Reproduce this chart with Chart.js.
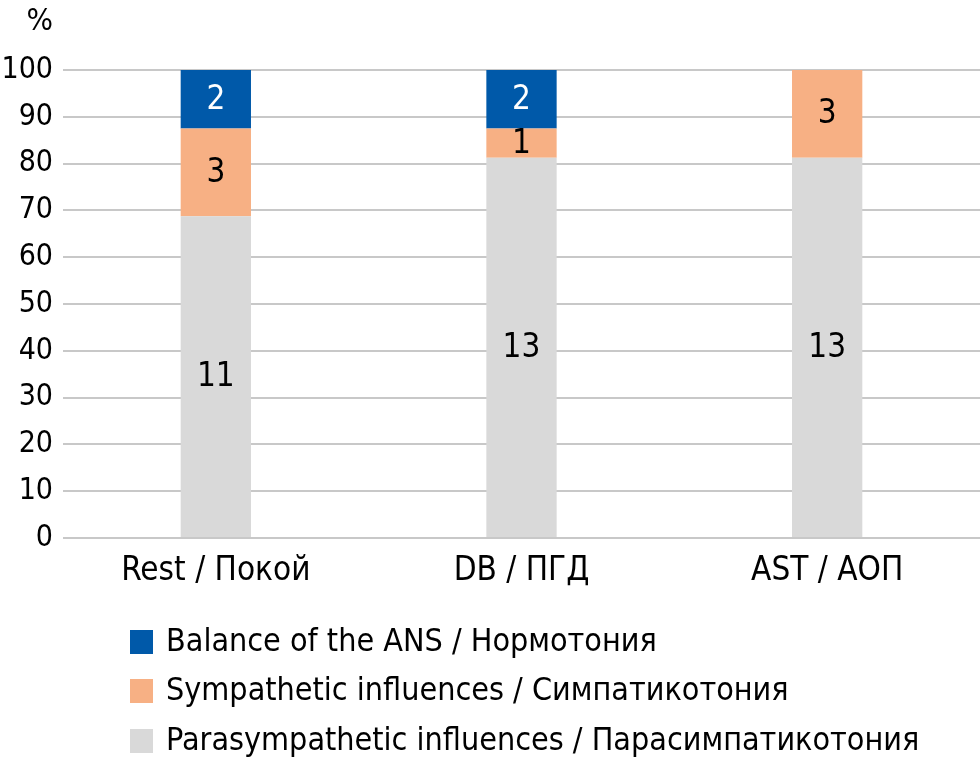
<!DOCTYPE html>
<html>
<head>
<meta charset="utf-8">
<script src="https://cdn.jsdelivr.net/npm/chart.js@4/dist/chart.umd.min.js"></script>
<style>
  html, body { margin: 0; padding: 0; background: #fff; }
  #wrap { width: 980px; height: 765px; }
</style>
</head>
<body>
<div id="wrap"><canvas id="myChart"></canvas></div>
<script>
const FONT = '"DejaVu Sans Condensed", "Liberation Sans", sans-serif';

const categories = ['Rest / Покой', 'DB / ПГД', 'AST / АОП'];
const seriesNames = [
    'Parasympathetic influences / Парасимпатикотония',
    'Sympathetic influences / Симпатикотония',
    'Balance of the ANS / Нормотония'
];
// number of subjects in each group
const parasympathetic = [11, 13, 13];
const sympathetic = [3, 1, 3];
const balance = [2, 2, 0];
const yTicks = [0, 10, 20, 30, 40, 50, 60, 70, 80, 90, 100];

const colors = ['#D9D9D9', '#F7B084', '#0059A9'];
const labelColors = ['#000', '#000', '#fff'];

const counts = [parasympathetic, sympathetic, balance];
const totals = categories.map((c, i) => counts.reduce((s, arr) => s + arr[i], 0));
const percent = arr => arr.map((v, i) => v / totals[i] * 100);

const valueLabels = {
    id: 'valueLabels',
    afterDatasetsDraw(chart) {
        const ctx = chart.ctx;
        ctx.save();
        ctx.font = '33px ' + FONT;
        ctx.textAlign = 'center';
        ctx.textBaseline = 'middle';
        chart.data.datasets.forEach((ds, di) => {
            const meta = chart.getDatasetMeta(di);
            meta.data.forEach((bar, i) => {
                const n = counts[di][i];
                if (!n) return;
                const p = bar.getProps(['x', 'y', 'base'], true);
                ctx.fillStyle = labelColors[di];
                ctx.fillText(String(n), p.x, (p.y + p.base) / 2 + 1);
            });
        });
        ctx.restore();
    },
    afterDraw(chart) {
        const ctx = chart.ctx;
        const yScale = chart.scales.y;
        ctx.save();
        ctx.fillStyle = '#000';
        ctx.font = '31px ' + FONT;
        ctx.textAlign = 'right';
        ctx.textBaseline = 'middle';
        ctx.fillText('%', yScale.right - 10, 22);

        // legend, top series first
        ctx.font = '32px ' + FONT;
        ctx.textAlign = 'left';
        const rows = [642, 691, 741];
        [2, 1, 0].forEach((di, r) => {
            ctx.fillStyle = colors[di];
            ctx.fillRect(130, rows[r] - 12, 23, 24);
            ctx.fillStyle = '#000';
            ctx.fillText(seriesNames[di], 166, rows[r] + 1);
        });
        ctx.restore();
    }
};

const ctx = document.getElementById('myChart').getContext('2d');
const myChart = new Chart(ctx, {
    type: 'bar',
    data: {
        labels: categories,
        datasets: counts.map((arr, di) => ({
            label: seriesNames[di],
            data: percent(arr),
            backgroundColor: colors[di],
            borderWidth: 0,
            categoryPercentage: 1,
            barPercentage: 0.23
        }))
    },
    options: {
        responsive: true,
        maintainAspectRatio: false,
        animation: false,
        layout: {
            padding: { top: 70, right: 0, left: 0, bottom: 0 }
        },
        scales: {
            x: {
                stacked: true,
                grid: { display: false, drawTicks: false },
                border: { display: false },
                ticks: {
                    color: '#000',
                    font: { family: FONT, size: 33 },
                    padding: 14
                },
                afterFit(scale) { scale.height = 227; }
            },
            y: {
                stacked: true,
                min: 0,
                max: 100,
                afterBuildTicks(scale) {
                    scale.ticks = yTicks.map(v => ({ value: v }));
                },
                grid: {
                    color: '#C8C8C8',
                    lineWidth: 2,
                    drawTicks: false
                },
                border: { display: false },
                ticks: {
                    color: '#000',
                    autoSkip: false,
                    font: { family: FONT, size: 30 },
                    padding: 10
                },
                afterFit(scale) { scale.width = 63; }
            }
        },
        plugins: {
            legend: { display: false },
            tooltip: { enabled: false }
        }
    },
    plugins: [valueLabels]
});
</script>
</body>
</html>
